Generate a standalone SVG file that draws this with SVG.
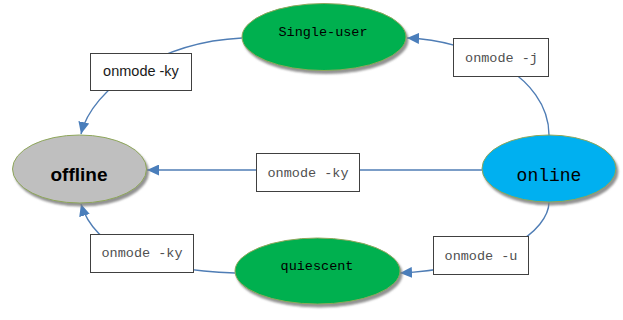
<svg xmlns="http://www.w3.org/2000/svg" width="623" height="320" viewBox="0 0 623 320">
<defs>
<filter id="sh" x="-10%" y="-10%" width="125%" height="130%">
<feDropShadow dx="2" dy="3" stdDeviation="1" flood-color="#7f7f7f" flood-opacity="0.85"/>
</filter>
<marker id="ar" markerUnits="userSpaceOnUse" markerWidth="12" markerHeight="11" refX="12" refY="5.5" orient="auto">
<path d="M0,0 L12,5.5 L0,11 z" fill="#4a7ebb"/>
</marker>
<style>
.ell{stroke:#8ea65a;stroke-width:1;filter:url(#sh)}
.box{fill:#fff;stroke:#404040;stroke-width:1}
.con{fill:none;stroke:#4f7db5;stroke-width:1.4;marker-end:url(#ar)}
.mono{font-family:"Liberation Mono",monospace;text-anchor:middle}
.lbl{font-family:"Liberation Mono",monospace;font-size:13.5px;fill:#505050;text-anchor:middle}
.sans{font-family:"Liberation Sans",Arial,sans-serif;text-anchor:middle}
</style>
</defs>
<rect width="623" height="320" fill="#fff"/>
<g id="connectors">
<path class="con" d="M242,38 C160,42 92,88 81,134"/>
<path class="con" d="M549,135 C549,75 470,40 407,38"/>
<path class="con" d="M482,170 L147,170"/>
<path class="con" d="M549,202 C549,230 500,268 400,273"/>
<path class="con" d="M235,273 C150,270 95,250 81,204"/>
</g>
<g id="single-user">
<ellipse class="ell" cx="324" cy="37" rx="82" ry="33.5" fill="#00b050"/>
<text class="mono" x="323" y="36" font-size="13.5" fill="#000">Single-user</text>
</g>
<g id="quiescent">
<ellipse class="ell" cx="317.5" cy="271" rx="82.5" ry="33" fill="#00b050"/>
<text class="mono" x="317" y="270" font-size="13.5" fill="#000">quiescent</text>
</g>
<g id="offline">
<ellipse class="ell" cx="79.5" cy="169" rx="67" ry="34" fill="#bfbfbf"/>
<text class="sans" x="79" y="181" font-size="19" font-weight="bold" fill="#000">offline</text>
</g>
<g id="online">
<ellipse class="ell" cx="549" cy="168.5" rx="67" ry="33.5" fill="#00b0f0"/>
<text class="mono" x="549" y="181" font-size="18" fill="#000">online</text>
</g>
<g id="label-ky-top">
<rect class="box" x="90.5" y="53.5" width="101" height="37"/>
<text class="sans" x="141" y="76" font-size="14.5" fill="#1a1a1a">onmode -ky</text>
</g>
<g id="label-j">
<rect class="box" x="453.5" y="38.5" width="95" height="38"/>
<text class="lbl" x="501.5" y="61.5">onmode -j</text>
</g>
<g id="label-ky-mid">
<rect class="box" x="256.5" y="153.5" width="103" height="38"/>
<text class="lbl" x="308" y="176.5">onmode -ky</text>
</g>
<g id="label-ky-bottom">
<rect class="box" x="90.5" y="234.5" width="103" height="38"/>
<text class="lbl" x="142" y="256.5">onmode -ky</text>
</g>
<g id="label-u">
<rect class="box" x="433.5" y="236.5" width="95" height="38"/>
<text class="lbl" x="481" y="259.5">onmode -u</text>
</g>
</svg>
